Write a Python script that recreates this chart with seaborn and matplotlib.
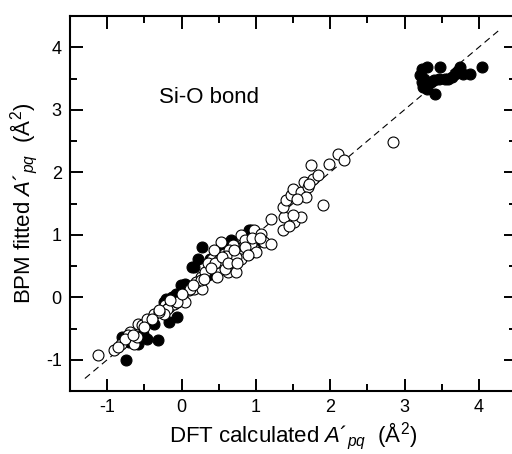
import matplotlib
matplotlib.use("Agg")
import matplotlib.pyplot as plt
import seaborn as sns
import pandas as pd
from matplotlib.ticker import MultipleLocator

# ---- data ----
filled_x = [-0.74, -0.80, -0.31, -0.58, -0.46, -0.37, -0.17, -0.06, -0.21, -0.08,
            -0.13, 0.05, 0.14, 0.17, 0.22, 0.28, 0.35, 0.39, 0.53, 0.60,
            0.66, 0.91, 0.93, 1.02, -0.01, 0.10, -0.24, -0.70, -0.52,
            3.21, 3.23, 3.23, 3.25, 3.30, 3.30, 3.36, 3.41, 3.48, 3.46,
            3.54, 3.59, 3.64, 3.68, 3.75, 3.72, 3.79, 3.88, 4.04, 3.26, 3.40]
filled_y = [-1.00, -0.63, -0.69, -0.74, -0.66, -0.42, -0.40, -0.31, -0.02, 0.06,
            0.00, 0.22, 0.49, 0.48, 0.61, 0.80, 0.36, 0.62, 0.73, 0.80,
            0.92, 1.08, 1.07, 0.89, 0.19, 0.15, -0.07, -0.72, -0.58,
            3.55, 3.65, 3.44, 3.36, 3.68, 3.33, 3.44, 3.25, 3.68, 3.49,
            3.49, 3.50, 3.52, 3.57, 3.68, 3.62, 3.57, 3.57, 3.69, 3.50, 3.47]

open_x = [-1.13, -0.91, -0.82, -0.69, -0.64, -0.60, -0.58, -0.53, -0.46, -0.37,
          -0.24, -0.22, -0.17, -0.10, -0.06, 0.01, 0.05, 0.10, 0.17, 0.26,
          0.28, 0.39, 0.41, 0.48, 0.50, 0.53, 0.57, 0.62, 0.66, 0.73,
          0.71, 0.77, 0.80, 0.84, 0.89, 0.98, 0.98, 1.07, 1.11, 1.20,
          1.21, 1.36, 1.38, 1.36, 1.41, 1.47, 1.50, 1.52, 1.61, 1.61,
          1.65, 1.70, 1.74, 1.77, 1.83, 1.90, 1.99, 2.10, 2.19, 2.85,
          1.50, 1.67, 0.44, 0.80, 0.91, 0.69, 0.93, 1.00, 0.64, 0.50,
          0.59, 0.73, 0.32, 0.19, 0.26, 0.12, -0.06, -0.19, -0.24, -0.72,
          -0.76, -0.50, 1.44, 1.56, 1.72, 0.36, 0.85, -0.30, 0.00, 0.60,
          0.45, 0.55, 0.70, 0.85, 0.95, 0.62, 0.40, 0.75, 0.90, 1.05,
          0.30, 0.15, -0.15, -0.40, -0.65, -0.85, -0.30]
open_y = [-0.93, -0.85, -0.74, -0.55, -0.74, -0.63, -0.42, -0.44, -0.34, -0.26,
          -0.23, -0.12, -0.15, -0.10, -0.07, 0.01, -0.07, 0.12, 0.14, 0.33,
          0.14, 0.52, 0.62, 0.33, 0.60, 0.89, 0.70, 0.41, 0.62, 0.41,
          0.84, 0.70, 1.00, 0.70, 0.84, 1.08, 0.78, 1.02, 0.89, 0.86,
          1.26, 1.08, 1.29, 1.45, 1.56, 1.64, 1.74, 1.21, 1.29, 1.69,
          1.85, 1.77, 2.12, 1.90, 1.96, 1.48, 2.14, 2.30, 2.20, 2.49,
          1.32, 1.61, 0.76, 0.62, 0.70, 0.83, 0.86, 0.72, 0.75, 0.56,
          0.46, 0.64, 0.40, 0.24, 0.27, 0.14, -0.08, -0.18, -0.26, -0.60,
          -0.66, -0.48, 1.14, 1.58, 1.82, 0.55, 0.92, -0.24, 0.05, 0.66,
          0.55, 0.65, 0.75, 0.80, 0.95, 0.55, 0.47, 0.55, 0.68, 0.95,
          0.30, 0.20, -0.05, -0.35, -0.60, -0.80, -0.20]

line_x = [-1.30, 4.27]
line_y = [-1.30, 4.27]

x_ticks = [-1, 0, 1, 2, 3, 4]
y_ticks = [-1, 0, 1, 2, 3, 4]

# ---- style ----
sns.set_style("ticks")
plt.rcParams["font.family"] = ["Liberation Sans", "DejaVu Sans"]
plt.rcParams["mathtext.fontset"] = "custom"
plt.rcParams["mathtext.rm"] = "Liberation Sans"
plt.rcParams["mathtext.it"] = "Liberation Sans:italic"
plt.rcParams["mathtext.bf"] = "Liberation Sans:bold"
plt.rcParams["text.color"] = "black"
plt.rcParams["axes.labelcolor"] = "black"

fig = plt.figure(figsize=(5.12, 4.54), dpi=100)
ax = fig.add_axes([70 / 512, 1 - 391 / 454, 446 / 512, 375 / 454])

df_f = pd.DataFrame({"x": filled_x, "y": filled_y})
df_o = pd.DataFrame({"x": open_x, "y": open_y})
df_l = pd.DataFrame({"x": line_x, "y": line_y})

sns.lineplot(data=df_l, x="x", y="y", ax=ax, color="black", linewidth=0.8,
             linestyle=(0, (6, 4)), zorder=1)
sns.scatterplot(data=df_f, x="x", y="y", ax=ax, marker="o", s=62,
                color="black", edgecolor="black", linewidth=0.8, zorder=2)
sns.scatterplot(data=df_o, x="x", y="y", ax=ax, marker="o", s=62,
                color="white", edgecolor="black", linewidth=0.8, zorder=3)

ax.set_xlim(-1.5, 4.5)
ax.set_ylim(-1.5, 4.5)
ax.set_xticks(x_ticks)
ax.set_yticks(y_ticks)
ax.set_xticklabels([str(t) for t in x_ticks])
ax.set_yticklabels([str(t) for t in y_ticks])
ax.xaxis.set_minor_locator(MultipleLocator(0.5))
ax.yaxis.set_minor_locator(MultipleLocator(0.5))
ax.tick_params(which="both", direction="in", top=True, right=True,
               width=1.4, colors="black", labelsize=13)
ax.tick_params(which="major", length=9, pad=6)
ax.tick_params(which="minor", length=5)
for s in ax.spines.values():
    s.set_visible(True)
    s.set_linewidth(1.5)
    s.set_color("black")

ax.set_xlabel("DFT calculated $A$\u00b4$_{pq}$  (Å$^2$)", fontsize=16, labelpad=3,
              color="black")
ax.set_ylabel("BPM fitted $A$\u00b4$_{pq}$  (Å$^2$)", fontsize=16, labelpad=5,
              color="black")

ax.text(-0.3, 3.19, "Si-O bond", fontsize=16, ha="left", va="center", color="black")

fig.savefig("out.png", dpi=100)
